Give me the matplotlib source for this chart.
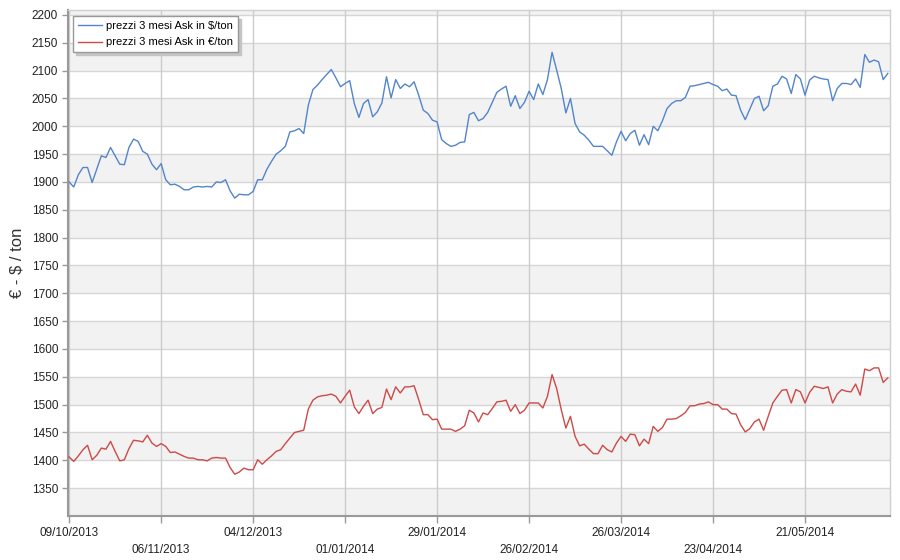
import numpy as np
import pandas as pd
import matplotlib
matplotlib.use('Agg')
import matplotlib.pyplot as plt

plt.rcParams['font.family'] = ['Liberation Sans', 'DejaVu Sans']

# weekdays from 09/10/2013 to 16/06/2014, plotted evenly spaced
dates = pd.bdate_range('2013-10-09', '2014-06-16')

usd_ton = [
    1900, 1891, 1913, 1926, 1926, 1899, 1923, 1947, 1944, 1962,
    1947, 1932, 1931, 1962, 1977, 1973, 1955, 1950, 1932, 1922,
    1933, 1904, 1895, 1896, 1892, 1886, 1886, 1891, 1892, 1891,
    1892, 1891, 1900, 1899, 1904, 1884, 1871, 1878, 1877, 1877,
    1883, 1904, 1904, 1923, 1937, 1950, 1956, 1964, 1990, 1992,
    1996, 1987, 2038, 2066, 2074, 2084, 2093, 2102, 2087, 2071,
    2077, 2082, 2041, 2016, 2041, 2048, 2017, 2026, 2042, 2089,
    2051, 2084, 2068, 2076, 2071, 2080, 2056, 2029, 2023, 2011,
    2008, 1976, 1969, 1964, 1966, 1971, 1972, 2021, 2025, 2010,
    2014, 2025, 2043, 2061, 2067, 2072, 2036, 2055, 2032, 2043,
    2063, 2048, 2076, 2057, 2084, 2133, 2101, 2068, 2024, 2050,
    2005, 1990, 1984, 1975, 1964, 1964, 1964, 1956, 1948, 1972,
    1991, 1974, 1987, 1993, 1966, 1985, 1967, 2000, 1992, 2010,
    2032, 2041, 2046, 2046, 2052, 2072, 2073, 2075, 2077, 2079,
    2075, 2072, 2064, 2067, 2056, 2055, 2029, 2012, 2031, 2050,
    2054, 2028, 2037, 2072, 2076, 2090, 2085, 2059, 2093, 2085,
    2056, 2083, 2090, 2087, 2085, 2084, 2046, 2068, 2077, 2077,
    2075, 2085, 2070, 2129, 2115, 2119, 2116, 2084, 2095,
]

eur_ton = [
    1406, 1398, 1408, 1419, 1427, 1401, 1409, 1422, 1420, 1434,
    1416, 1399, 1401, 1421, 1436, 1435, 1433, 1445, 1431, 1425,
    1430, 1425, 1414, 1415, 1411, 1407, 1404, 1404, 1401, 1401,
    1399, 1404, 1405, 1404, 1404, 1387, 1375, 1379, 1386, 1383,
    1383, 1401, 1393, 1401, 1408, 1416, 1419, 1430, 1440, 1450,
    1452, 1454, 1492, 1508, 1514, 1516, 1517, 1519, 1515, 1503,
    1515, 1526, 1496, 1484, 1497, 1508, 1484, 1492, 1495, 1528,
    1509, 1532, 1521, 1532, 1532, 1534, 1509, 1482, 1482, 1473,
    1474, 1456, 1456, 1456, 1452, 1456, 1462, 1490, 1485, 1469,
    1485, 1482, 1493, 1505, 1506, 1508, 1488, 1500, 1484, 1490,
    1503, 1503, 1503, 1494, 1515, 1554, 1529, 1491, 1458, 1479,
    1443, 1426, 1429, 1420, 1412, 1412, 1427, 1419, 1415, 1431,
    1443, 1434, 1447, 1446, 1426, 1438, 1430, 1461, 1452, 1459,
    1474, 1474, 1475, 1480, 1486, 1498, 1498, 1501, 1502, 1505,
    1500, 1500, 1492, 1492, 1484, 1483, 1464, 1451, 1457, 1469,
    1474, 1454, 1479, 1503, 1515, 1526, 1527, 1503, 1527, 1523,
    1503, 1522, 1533, 1531, 1529, 1532, 1503, 1519, 1527, 1524,
    1523, 1537, 1517, 1564, 1561, 1566, 1566, 1540, 1548,
]

y_ticks = list(range(1350, 2201, 50))
tick_every = 20  # one label every 4 weeks

x = np.arange(len(dates))

fig = plt.figure(figsize=(9, 5.6), dpi=100)
ax = fig.add_axes([0.0753, 0.0786, 0.9137, 0.9036])

ymin, ymax = 1300, 2209
ax.set_ylim(ymin, ymax)
ax.set_xlim(-0.3, len(dates) - 0.5)

# alternating bands
for lo in range(1300, 2250, 100):
    ax.axhspan(lo, lo + 50, color='#f2f2f2', zorder=0, lw=0)
for v in y_ticks:
    ax.axhline(v, color='#d6d6d6', lw=1, zorder=1)

tick_pos = x[::tick_every]
for p in tick_pos:
    ax.axvline(p, color='#cccccc', lw=1, zorder=1)

ax.plot(x, usd_ton, color='#5285cc', lw=1, zorder=3, label='prezzi 3 mesi Ask in $/ton')
ax.plot(x, eur_ton, color='#cc4a48', lw=1, zorder=3, label='prezzi 3 mesi Ask in €/ton')

labels = []
for k, p in enumerate(tick_pos):
    s = dates[p].strftime('%d/%m/%Y')
    labels.append(s if k % 2 == 0 else '\n' + s)
ax.set_xticks(tick_pos)
ax.set_xticklabels(labels, fontsize=8.5, color='#222222', linespacing=1.5)
ax.set_yticks(y_ticks)
ax.set_yticklabels([str(v) for v in y_ticks], fontsize=8.5, color='#222222')
ax.tick_params(axis='x', length=5, width=1, color='#999999', pad=3)
ax.tick_params(axis='y', length=4, width=1, color='#999999', pad=3)

ax.set_ylabel('€ - $ / ton', fontsize=12, color='#333333', labelpad=5)

for side in ['left', 'bottom']:
    ax.spines[side].set_color('#999999')
    ax.spines[side].set_linewidth(1.5)
for side in ['top', 'right']:
    ax.spines[side].set_color('#d0d0d0')
    ax.spines[side].set_linewidth(1)

leg = ax.legend(loc='upper left', bbox_to_anchor=(0.002, 0.994), fontsize=8,
                frameon=True, fancybox=False,
                shadow={'color': '#c4c4c4', 'alpha': 1},
                handlelength=2.2, borderpad=0.45, labelspacing=0.55,
                handletextpad=0.35, borderaxespad=0.3)
leg.get_frame().set_edgecolor('#999999')
leg.get_frame().set_linewidth(1)

fig.savefig('out.png', dpi=100)
